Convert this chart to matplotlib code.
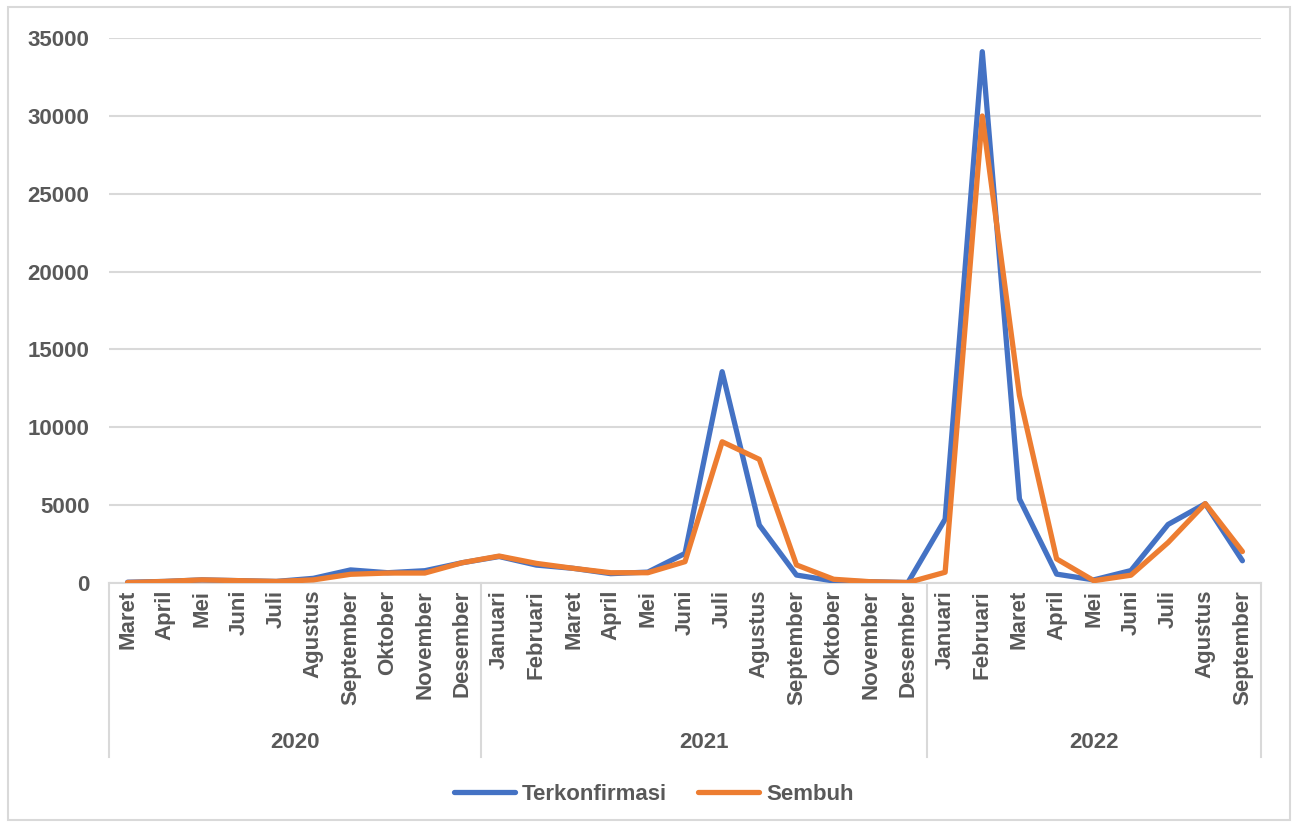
import matplotlib
matplotlib.use("Agg")
import matplotlib.pyplot as plt
from matplotlib.patches import Rectangle

# Monthly case counts by year
years = ["2020", "2021", "2022"]
months_2020 = ["Maret", "April", "Mei", "Juni", "Juli", "Agustus", "September",
               "Oktober", "November", "Desember"]
months_2021 = ["Januari", "Februari", "Maret", "April", "Mei", "Juni", "Juli",
               "Agustus", "September", "Oktober", "November", "Desember"]
months_2022 = ["Januari", "Februari", "Maret", "April", "Mei", "Juni", "Juli",
               "Agustus", "September"]

terkonfirmasi_2020 = [50, 100, 200, 150, 100, 300, 840, 660, 790, 1300]
terkonfirmasi_2021 = [1700, 1150, 940, 600, 700, 1900, 13570, 3720, 510, 130, 80, 30]
terkonfirmasi_2022 = [4100, 34120, 5400, 570, 200, 800, 3760, 5090, 1430]

sembuh_2020 = [30, 100, 200, 150, 100, 200, 560, 640, 640, 1300]
sembuh_2021 = [1730, 1260, 940, 660, 660, 1370, 9070, 7940, 1160, 240, 80, 30]
sembuh_2022 = [690, 29990, 12040, 1550, 150, 500, 2600, 5100, 2020]

y_ticks = [0, 5000, 10000, 15000, 20000, 25000, 30000, 35000]

month_groups = [months_2020, months_2021, months_2022]
labels = months_2020 + months_2021 + months_2022
terkonfirmasi = terkonfirmasi_2020 + terkonfirmasi_2021 + terkonfirmasi_2022
sembuh = sembuh_2020 + sembuh_2021 + sembuh_2022
x = list(range(len(labels)))

plt.rcParams['font.family'] = ['Liberation Sans', 'DejaVu Sans']
TEXT = "#595959"
GRID = "#D9D9D9"
BLUE = "#4472C4"
ORANGE = "#ED7D31"
FS = 16

W, H = 1298, 825
fig = plt.figure(figsize=(W / 100, H / 100), dpi=100)
fig.patch.set_facecolor("white")

# outer chart border
fig.add_artist(Rectangle((8 / W, 1 - 820 / H), (1290 - 8) / W, (820 - 7) / H,
                         transform=fig.transFigure, fill=False,
                         edgecolor=GRID, linewidth=1.5))

left, right, top, bottom = 109, 1261, 38, 583
ax = fig.add_axes([left / W, 1 - bottom / H, (right - left) / W, (bottom - top) / H])

line_kw = dict(linewidth=3.8, solid_capstyle="round", solid_joinstyle="round")
ax.plot(x, terkonfirmasi, color=BLUE, label="Terkonfirmasi", zorder=3, **line_kw)
ax.plot(x, sembuh, color=ORANGE, label="Sembuh", zorder=4, **line_kw)

ax.set_xlim(-0.5, len(labels) - 0.5)
ax.set_ylim(0, 35000)
ax.set_yticks(y_ticks)
ax.set_yticklabels([str(v) for v in y_ticks])
ax.yaxis.grid(True, color=GRID, linewidth=1.5)
ax.set_axisbelow(True)
for side in ["top", "right", "left"]:
    ax.spines[side].set_visible(False)
ax.spines["bottom"].set_color(GRID)
ax.spines["bottom"].set_linewidth(1.5)

ax.tick_params(axis="y", length=0, pad=14, labelsize=FS, labelcolor=TEXT)
ax.tick_params(axis="x", length=0, pad=5, labelsize=FS, labelcolor=TEXT)
for t in ax.get_yticklabels():
    t.set_fontweight("bold")

ax.set_xticks(x)
ax.set_xticklabels(labels, rotation=90, va="top", ha="center", fontweight="bold")

# multi-level category axis: year separators and year labels
trans = ax.get_xaxis_transform()
sep_bottom = -(757 - bottom) / (bottom - top)
year_y = -(743 - bottom) / (bottom - top)
start = -0.5
bounds = [start]
for grp in month_groups:
    bounds.append(bounds[-1] + len(grp))
for b in bounds:
    ax.plot([b, b], [0, sep_bottom], transform=trans, color=GRID,
            linewidth=1.5, clip_on=False)
for yr, a, b in zip(years, bounds[:-1], bounds[1:]):
    ax.text((a + b) / 2, year_y, yr, transform=trans, ha="center", va="center",
            fontsize=FS, fontweight="bold", color=TEXT)

leg = fig.legend(loc="center", bbox_to_anchor=(654 / W, 1 - 794 / H), ncol=2,
                 frameon=False, handlelength=2.75, handletextpad=0.3,
                 columnspacing=1.4, prop={"size": FS, "weight": "bold"})
for t in leg.get_texts():
    t.set_color(TEXT)

fig.savefig("out.png", dpi=100, facecolor="white")
